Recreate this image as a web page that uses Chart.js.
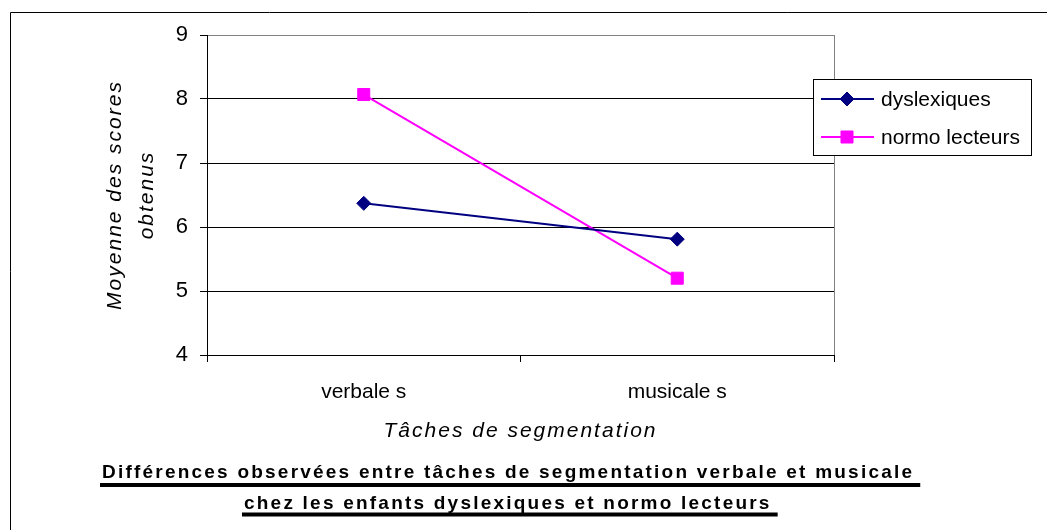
<!DOCTYPE html>
<html lang="fr">
<head>
    <meta charset="utf-8">
    <title>Tâches de segmentation</title>
    <script src="https://cdn.jsdelivr.net/npm/chart.js"></script>
    <style>
        body {
            margin: 0;
            background: #fff;
        }
        #wrap {
            width: 1047px;
            height: 530px;
        }
    </style>
</head>
<body>
<div id="wrap">
    <canvas id="segChart" width="1047" height="530"></canvas>
</div>

<script>
    // data
    var categories = ['verbale s', 'musicale s'];
    var seriesNames = ['dyslexiques', 'normo lecteurs'];
    var dyslexiques = [6.37, 5.81];
    var normoLecteurs = [8.07, 5.2];
    var yTicks = [4, 5, 6, 7, 8, 9];
    var yTitle = ['Moyenne des scores', 'obtenus'];
    var xTitle = 'Tâches de segmentation';
    var chartTitle = [
        'Différences observées entre tâches de segmentation verbale et musicale',
        'chez les enfants dyslexiques et normo lecteurs'
    ];

    var FONT = 'Arial, "Liberation Sans", sans-serif';
    Chart.defaults.font.family = FONT;
    Chart.defaults.color = '#000';

    // axis titles in the picture are drawn a bit spaced out
    var spacedTitles = {
        id: 'spacedTitles',
        beforeDraw: function (chart) {
            ['x', 'y'].forEach(function (id) {
                var s = chart.scales[id];
                if (s._spaced) return;
                var orig = s.drawTitle;
                s.drawTitle = function () {
                    var c = this.ctx;
                    c.letterSpacing = '2px';
                    orig.call(this);
                    c.letterSpacing = '0px';
                };
                s._spaced = true;
            });
        }
    };

    // outer frame, legend box and underlined bottom title
    var decorations = {
        id: 'decorations',
        afterDraw: function (chart) {
            var ctx = chart.ctx;
            ctx.save();

            // outer frame (cut by the window on right and bottom)
            ctx.strokeStyle = '#000';
            ctx.lineWidth = 1;
            ctx.beginPath();
            ctx.moveTo(10.5, 530);
            ctx.lineTo(10.5, 12.5);
            ctx.lineTo(1047, 12.5);
            ctx.stroke();

            // legend
            var lx = 813, ly = 79, lw = 218, lh = 76;
            ctx.fillStyle = '#fff';
            ctx.fillRect(lx, ly, lw, lh);
            ctx.strokeRect(lx + 0.5, ly + 0.5, lw, lh);
            var rows = [99, 137];
            chart.data.datasets.forEach(function (ds, i) {
                var y = rows[i];
                ctx.strokeStyle = ds.borderColor;
                ctx.lineWidth = 2;
                ctx.beginPath();
                ctx.moveTo(821, y);
                ctx.lineTo(874, y);
                ctx.stroke();
                ctx.fillStyle = ds.pointBackgroundColor;
                ctx.strokeStyle = ds.borderColor;
                ctx.lineWidth = 1;
                Chart.helpers.drawPoint(ctx, {
                    pointStyle: ds.pointStyle,
                    radius: ds.pointRadius,
                    rotation: 0,
                    borderWidth: 1
                }, 847, y);
                ctx.fillStyle = '#000';
                ctx.font = '21px ' + FONT;
                ctx.textAlign = 'left';
                ctx.textBaseline = 'middle';
                ctx.fillText(ds.label, 881, y + 1);
            });

            // bottom title, bold + underlined
            ctx.font = 'bold 19px ' + FONT;
            ctx.fillStyle = '#000';
            ctx.textAlign = 'left';
            ctx.textBaseline = 'alphabetic';
            ctx.letterSpacing = '0px';
            var natural = ctx.measureText(chartTitle[0]).width;
            var sp = (810 - natural) / (chartTitle[0].length - 1);
            ctx.letterSpacing = sp.toFixed(2) + 'px';
            var baselines = [478, 509];
            var underlines = [485, 514.5];
            var cx = 508;
            chartTitle.forEach(function (line, i) {
                var w = ctx.measureText(line).width;
                var x0 = Math.round(cx - w / 2);
                ctx.fillText(line, x0, baselines[i]);
                ctx.fillRect(x0 - 2, underlines[i] - 2, w + 8, 4);
            });
            ctx.letterSpacing = '0px';

            ctx.restore();
        }
    };

    var ctx = document.getElementById('segChart').getContext('2d');
    var chart = new Chart(ctx, {
        type: 'line',
        data: {
            labels: categories,
            datasets: [{
                label: seriesNames[0],
                data: dyslexiques,
                borderColor: '#000080',
                backgroundColor: '#000080',
                pointBackgroundColor: '#000080',
                pointBorderColor: '#000080',
                pointStyle: 'rectRot',
                pointRadius: 7,
                pointBorderWidth: 1,
                borderWidth: 2,
                tension: 0
            }, {
                label: seriesNames[1],
                data: normoLecteurs,
                borderColor: '#FF00FF',
                backgroundColor: '#FF00FF',
                pointBackgroundColor: '#FF00FF',
                pointBorderColor: '#FF00FF',
                pointStyle: 'rect',
                pointRadius: 8.5,
                pointBorderWidth: 1,
                borderWidth: 2,
                tension: 0
            }]
        },
        options: {
            responsive: false,
            animation: false,
            layout: {
                padding: { left: 10, top: 35, right: 213, bottom: 75 }
            },
            plugins: {
                legend: { display: false },
                title: { display: false },
                tooltip: { enabled: false }
            },
            scales: {
                x: {
                    offset: true,
                    afterFit: function (scale) { scale.height = 100; },
                    grid: {
                        offset: true,
                        drawOnChartArea: true,
                        color: function (c) { return c.tick ? 'rgba(0,0,0,0)' : '#808080'; },
                        tickColor: '#000',
                        tickLength: 7
                    },
                    border: { color: '#000', width: 1 },
                    ticks: {
                        font: { size: 21 },
                        color: '#000',
                        padding: 18,
                        maxRotation: 0
                    },
                    title: {
                        display: true,
                        text: xTitle,
                        color: '#000',
                        font: { size: 21, style: 'italic' },
                        padding: { top: 0, bottom: 11 }
                    }
                },
                y: {
                    min: yTicks[0],
                    max: yTicks[yTicks.length - 1],
                    afterFit: function (scale) { scale.width = 197; },
                    afterBuildTicks: function (scale) {
                        scale.ticks = yTicks.map(function (v) { return { value: v }; });
                    },
                    grid: {
                        color: function (c) { return c.tick && c.tick.value === yTicks[yTicks.length - 1] ? '#808080' : '#000'; },
                        tickColor: '#000',
                        tickLength: 7,
                        lineWidth: 1
                    },
                    border: { color: '#000', width: 1 },
                    ticks: {
                        font: { size: 22 },
                        color: '#000',
                        padding: 12
                    },
                    title: {
                        display: true,
                        text: yTitle,
                        color: '#000',
                        font: { size: 21, style: 'italic', lineHeight: '32px' },
                        padding: { top: 89, bottom: 0 }
                    }
                }
            }
        },
        plugins: [spacedTitles, decorations]
    });
</script>
</body>
</html>
